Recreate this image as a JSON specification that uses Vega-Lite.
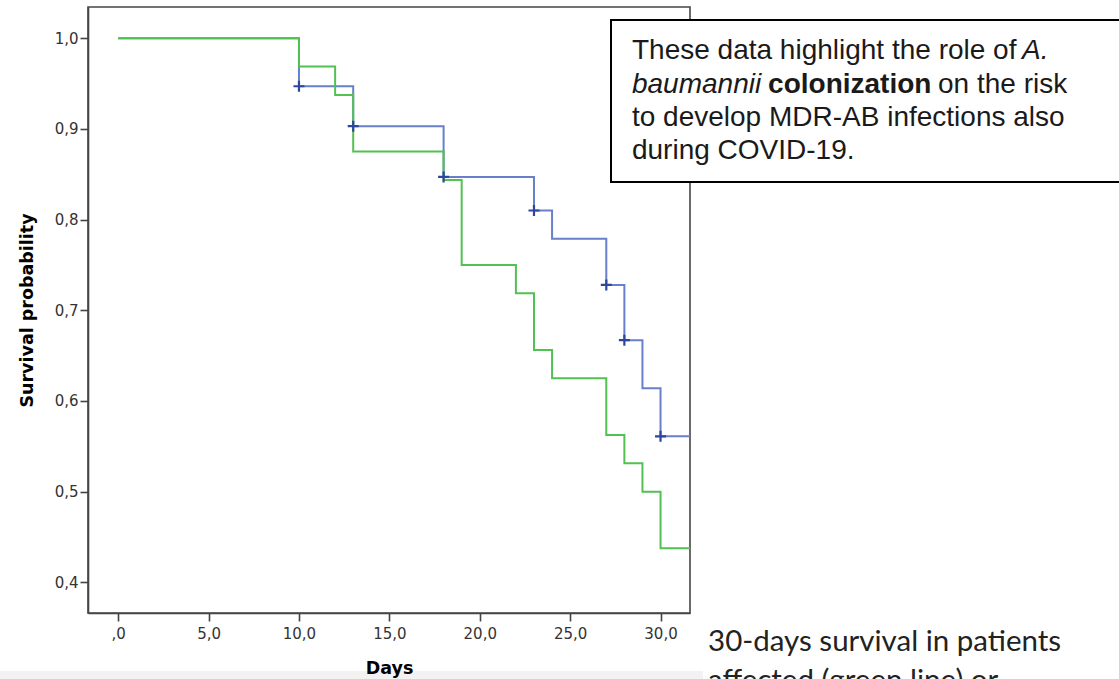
{
  "$schema": "https://vega.github.io/schema/vega-lite/v6.json",
  "width": 602,
  "height": 606,
  "autosize": {"type": "none"},
  "padding": {"left": 88, "top": 7, "right": 429, "bottom": 66},
  "background": "white",
  "config": {
    "view": {"stroke": "#454545", "strokeWidth": 1.6},
    "axis": {
      "zindex": 2,
      "grid": false,
      "domainColor": "#454545",
      "domainWidth": 1.6,
      "tickColor": "#454545",
      "tickWidth": 1.6,
      "tickSize": 8,
      "labelFont": "DejaVu Sans",
      "labelFontSize": 15,
      "labelColor": "#333333",
      "labelFlush": false,
      "labelOverlap": false,
      "titleFont": "DejaVu Sans",
      "titleFontWeight": "bold",
      "titleFontSize": 17.5,
      "titleColor": "#000000"
    }
  },
  "datasets": {
    "curves": [
      {"group": "not affected", "day": 0, "surv": 1.0},
      {"group": "not affected", "day": 10, "surv": 0.947},
      {"group": "not affected", "day": 13, "surv": 0.903},
      {"group": "not affected", "day": 18, "surv": 0.847},
      {"group": "not affected", "day": 23, "surv": 0.81},
      {"group": "not affected", "day": 24, "surv": 0.779},
      {"group": "not affected", "day": 27, "surv": 0.728},
      {"group": "not affected", "day": 28, "surv": 0.667},
      {"group": "not affected", "day": 29, "surv": 0.614},
      {"group": "not affected", "day": 30, "surv": 0.561},
      {"group": "not affected", "day": 31.63, "surv": 0.561},
      {"group": "affected", "day": 0, "surv": 1.0},
      {"group": "affected", "day": 10, "surv": 0.96875},
      {"group": "affected", "day": 12, "surv": 0.9375},
      {"group": "affected", "day": 13, "surv": 0.875},
      {"group": "affected", "day": 18, "surv": 0.84375},
      {"group": "affected", "day": 19, "surv": 0.75},
      {"group": "affected", "day": 22, "surv": 0.71875},
      {"group": "affected", "day": 23, "surv": 0.65625},
      {"group": "affected", "day": 24, "surv": 0.625},
      {"group": "affected", "day": 27, "surv": 0.5625},
      {"group": "affected", "day": 28, "surv": 0.53125},
      {"group": "affected", "day": 29, "surv": 0.5},
      {"group": "affected", "day": 30, "surv": 0.4375},
      {"group": "affected", "day": 31.63, "surv": 0.4375}
    ],
    "censored": [
      {"group": "not affected", "day": 10, "surv": 0.947},
      {"group": "not affected", "day": 13, "surv": 0.903},
      {"group": "not affected", "day": 18, "surv": 0.847},
      {"group": "not affected", "day": 23, "surv": 0.81},
      {"group": "not affected", "day": 27, "surv": 0.728},
      {"group": "not affected", "day": 28, "surv": 0.667},
      {"group": "not affected", "day": 30, "surv": 0.561}
    ]
  },
  "layer": [
    {
      "data": {"values": [{}]},
      "mark": {"type": "rect", "color": "#f2f2f2", "clip": false},
      "encoding": {
        "x": {"datum": -6.6, "type": "quantitative", "title": "Days"},
        "x2": {"datum": 32.35},
        "y": {"datum": 0.3022, "type": "quantitative", "title": "Survival probability"},
        "y2": {"datum": 0.27}
      }
    },
    {
      "data": {"name": "curves"},
      "transform": [{"filter": "datum.group == 'not affected'"}],
      "mark": {"type": "line", "interpolate": "step-after", "strokeWidth": 2, "color": "#6880cc", "clip": true},
      "encoding": {
        "x": {
          "field": "day", "type": "quantitative", "title": "Days",
          "scale": {"domain": [-1.67, 31.63], "nice": false, "zero": false},
          "axis": {
            "values": [0, 5, 10, 15, 20, 25, 30],
            "labelExpr": "datum.value == 0 ? ',0' : replace(format(datum.value, '.1f'), '.', ',')",
            "labelPadding": 5,
            "labelFontSize": 15,
            "titlePadding": 18,
            "zindex": 2
          }
        },
        "y": {
          "field": "surv", "type": "quantitative", "title": "Survival probability",
          "scale": {"domain": [0.3662, 1.0344], "nice": false, "zero": false},
          "axis": {
            "values": [0.4, 0.5, 0.6, 0.7, 0.8, 0.9, 1.0],
            "labelExpr": "replace(format(datum.value, '.1f'), '.', ',')",
            "labelPadding": 2,
            "labelFontSize": 15,
            "titlePadding": 18,
            "zindex": 2
          }
        }
      }
    },
    {
      "data": {"name": "curves"},
      "transform": [{"filter": "datum.group == 'affected'"}],
      "mark": {"type": "line", "interpolate": "step-after", "strokeWidth": 2, "color": "#52c152", "clip": true},
      "encoding": {
        "x": {"field": "day", "type": "quantitative", "title": "Days"},
        "y": {"field": "surv", "type": "quantitative", "title": "Survival probability"}
      }
    },
    {
      "data": {"name": "censored"},
      "mark": {"type": "point", "shape": "M-1,0H1M0,-1V1", "filled": false, "size": 121, "strokeWidth": 2.2, "color": "#2d479e", "opacity": 1},
      "encoding": {
        "x": {"field": "day", "type": "quantitative", "title": "Days"},
        "y": {"field": "surv", "type": "quantitative", "title": "Survival probability"}
      }
    },
    {
      "data": {"values": [{}]},
      "mark": {"type": "rect", "fill": "white", "stroke": "#000000", "strokeWidth": 2, "clip": false},
      "encoding": {
        "x": {"datum": 27.26, "type": "quantitative", "title": "Days"},
        "x2": {"datum": 55.69},
        "y": {"datum": 1.0201, "type": "quantitative", "title": "Survival probability"},
        "y2": {"datum": 0.8414}
      }
    },
    {
      "data": {"values": [{}]},
      "mark": {"type": "text", "text": "These data highlight the role of", "align": "left", "baseline": "alphabetic", "font": "Liberation Sans", "fontSize": 28, "color": "#1a1a1a", "clip": false},
      "encoding": {
        "x": {"datum": 28.42, "type": "quantitative", "title": "Days"},
        "y": {"datum": 0.97706, "type": "quantitative", "title": "Survival probability"}
      }
    },
    {
      "data": {"values": [{}]},
      "mark": {"type": "text", "text": "A.", "align": "left", "baseline": "alphabetic", "font": "Liberation Sans", "fontSize": 28, "fontStyle": "italic", "color": "#1a1a1a", "clip": false},
      "encoding": {
        "x": {"datum": 50.0, "type": "quantitative", "title": "Days"},
        "y": {"datum": 0.97706, "type": "quantitative", "title": "Survival probability"}
      }
    },
    {
      "data": {"values": [{}]},
      "mark": {"type": "text", "text": "baumannii", "align": "left", "baseline": "alphabetic", "font": "Liberation Sans", "fontSize": 28, "fontStyle": "italic", "color": "#1a1a1a", "clip": false},
      "encoding": {
        "x": {"datum": 28.42, "type": "quantitative", "title": "Days"},
        "y": {"datum": 0.94012, "type": "quantitative", "title": "Survival probability"}
      }
    },
    {
      "data": {"values": [{}]},
      "mark": {"type": "text", "text": "colonization", "align": "left", "baseline": "alphabetic", "font": "Liberation Sans", "fontSize": 28, "fontWeight": "bold", "color": "#1a1a1a", "clip": false},
      "encoding": {
        "x": {"datum": 35.95, "type": "quantitative", "title": "Days"},
        "y": {"datum": 0.94012, "type": "quantitative", "title": "Survival probability"}
      }
    },
    {
      "data": {"values": [{}]},
      "mark": {"type": "text", "text": "on the risk", "align": "left", "baseline": "alphabetic", "font": "Liberation Sans", "fontSize": 28, "color": "#1a1a1a", "clip": false},
      "encoding": {
        "x": {"datum": 45.35, "type": "quantitative", "title": "Days"},
        "y": {"datum": 0.94012, "type": "quantitative", "title": "Survival probability"}
      }
    },
    {
      "data": {"values": [{}]},
      "mark": {"type": "text", "text": "to develop MDR-AB infections also", "align": "left", "baseline": "alphabetic", "font": "Liberation Sans", "fontSize": 28, "color": "#1a1a1a", "clip": false},
      "encoding": {
        "x": {"datum": 28.42, "type": "quantitative", "title": "Days"},
        "y": {"datum": 0.90318, "type": "quantitative", "title": "Survival probability"}
      }
    },
    {
      "data": {"values": [{}]},
      "mark": {"type": "text", "text": "during COVID-19.", "align": "left", "baseline": "alphabetic", "font": "Liberation Sans", "fontSize": 28, "color": "#1a1a1a", "clip": false},
      "encoding": {
        "x": {"datum": 28.42, "type": "quantitative", "title": "Days"},
        "y": {"datum": 0.86625, "type": "quantitative", "title": "Survival probability"}
      }
    },
    {
      "data": {"values": [{}]},
      "mark": {"type": "text", "text": "30-days survival in patients", "align": "left", "baseline": "alphabetic", "font": "Lato", "fontSize": 29.5, "color": "#222222", "clip": false},
      "encoding": {
        "x": {"datum": 32.63, "type": "quantitative", "title": "Days"},
        "y": {"datum": 0.32428, "type": "quantitative", "title": "Survival probability"}
      }
    },
    {
      "data": {"values": [{}]},
      "mark": {"type": "text", "text": "affected (green line) or", "align": "left", "baseline": "alphabetic", "font": "Lato", "fontSize": 29.5, "color": "#222222", "clip": false},
      "encoding": {
        "x": {"datum": 32.63, "type": "quantitative", "title": "Days"},
        "y": {"datum": 0.28128, "type": "quantitative", "title": "Survival probability"}
      }
    }
  ]
}
